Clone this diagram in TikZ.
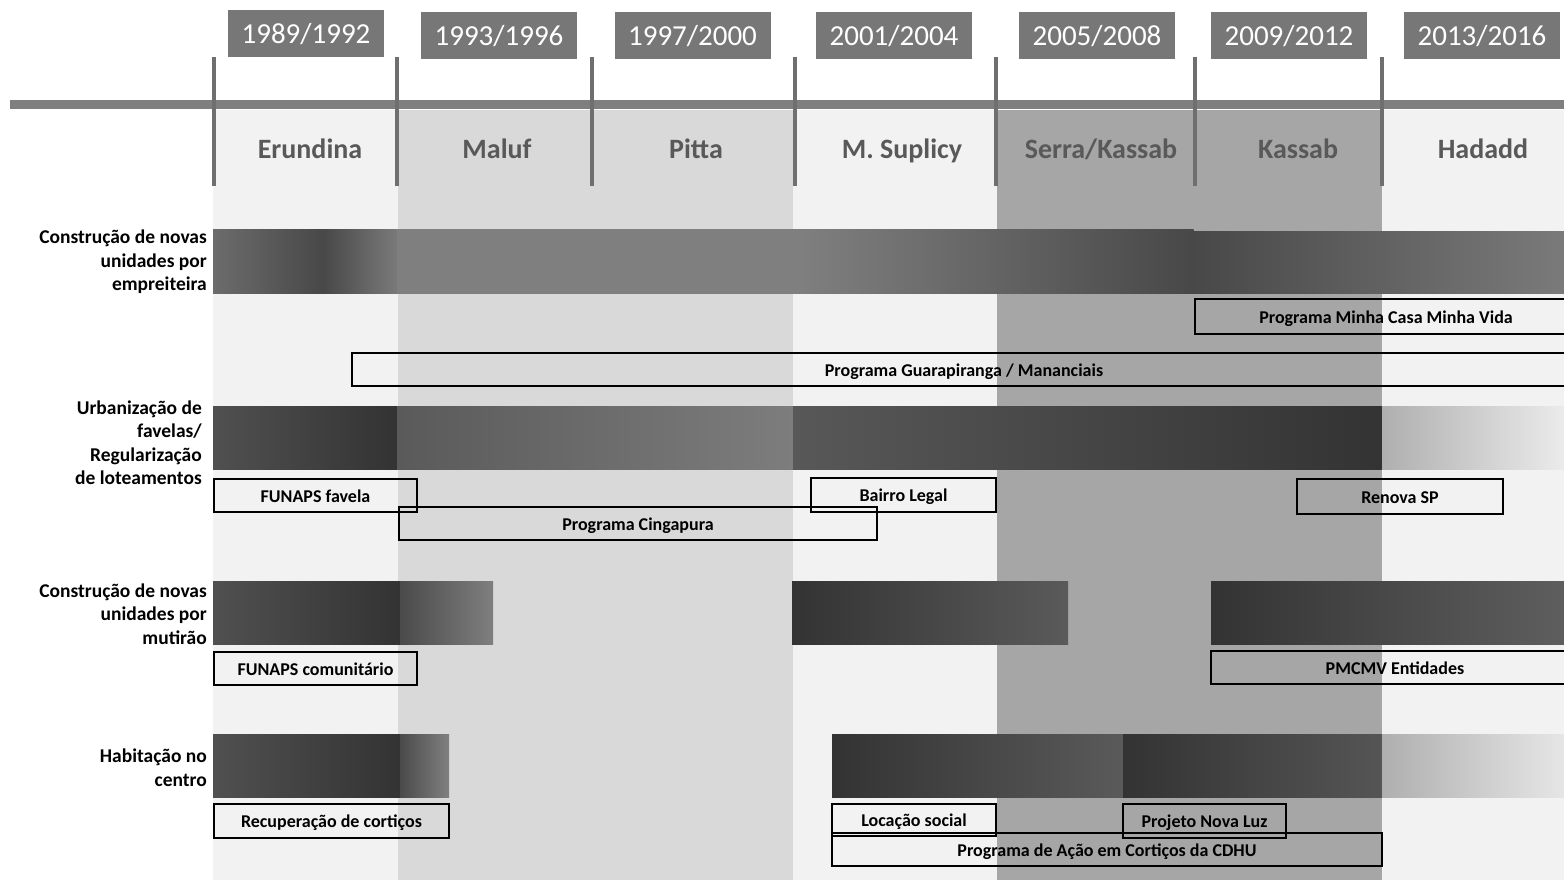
\documentclass[tikz,border=0pt]{standalone}
\usepackage{fontspec}
\setmainfont{Carlito}
\definecolor{bgA}{HTML}{F2F2F2}
\definecolor{bgB}{HTML}{D9D9D9}
\definecolor{bgC}{HTML}{A6A6A6}
\definecolor{yearfill}{HTML}{777777}
\definecolor{hbarcol}{HTML}{7F7F7F}
\definecolor{vlinecol}{HTML}{6F6F6F}
\definecolor{nametext}{HTML}{595959}
\begin{document}
\begin{tikzpicture}[x=1pt,y=-1pt,
  yearbox/.style={fill=yearfill, text=white, font=\fontsize{29}{32}\selectfont,
    minimum width=156pt, minimum height=47pt, inner sep=0pt, text height=21pt, text depth=0pt},
  namelbl/.style={text=nametext, font=\fontsize{28}{32}\selectfont\bfseries, anchor=base, inner sep=0pt},
  lbox/.style={draw=black, line width=1.2pt, font=\fontsize{18}{21}\selectfont\bfseries,
    inner sep=0pt, text height=13.4pt, text depth=0pt},
  rowlbl/.style={font=\fontsize{19.5}{23.5}\selectfont\bfseries, align=right, anchor=east, inner sep=0pt},
  vline/.style={draw=vlinecol, line width=4pt},
]
\clip (0,0) rectangle (1564,880);
\fill[white] (0,0) rectangle (1564,880);
% column backgrounds
\fill[bgA] (213,110) rectangle (398,880);
\fill[bgB] (398,110) rectangle (793,880);
\fill[bgA] (793,110) rectangle (997,880);
\fill[bgC] (997,110) rectangle (1382,880);
\fill[bgA] (1382,110) rectangle (1564,880);
% time axis
\fill[hbarcol] (10,100) rectangle (1564,109);
\foreach \x in {214,397,592,795,996,1195,1382}
  \draw[vline] (\x,57) -- (\x,186);
% year boxes
\node[yearbox] (y1) at (306,33.5) {1989/1992};
\node[yearbox] (y2) at (499,35.5) {1993/1996};
\node[yearbox] (y3) at (692.5,35.5) {1997/2000};
\node[yearbox] (y4) at (894,35.5) {2001/2004};
\node[yearbox] (y5) at (1097,35.5) {2005/2008};
\node[yearbox] (y6) at (1289,35.5) {2009/2012};
\node[yearbox] (y7) at (1482,35.5) {2013/2016};
% mayors
\node[namelbl] (n1) at (310,159) {Erundina};
\node[namelbl] (n2) at (497,159) {Maluf};
\node[namelbl] (n3) at (696,159) {Pitta};
\node[namelbl] (n4) at (902,159) {M. Suplicy};
\node[namelbl] (n5) at (1101,159) {Serra/Kassab};
\node[namelbl] (n6) at (1298,159) {Kassab};
\node[namelbl] (n7) at (1483,159) {Hadadd};
% row 1 bar
\shade[left color={rgb,255:red,108;green,108;blue,108}, right color={rgb,255:red,72;green,72;blue,72}] (213,229) rectangle (323,293);
\shade[left color={rgb,255:red,72;green,72;blue,72}, right color={rgb,255:red,122;green,122;blue,122}] (323,229) rectangle (397.5,293);
\shade[left color=hbarcol, right color=hbarcol] (397,229) rectangle (800.5,293);
\shade[left color={rgb,255:red,127;green,127;blue,127}, right color={rgb,255:red,72;green,72;blue,72}] (800,229) rectangle (1193.5,293);
\shade[left color={rgb,255:red,72;green,72;blue,72}, right color={rgb,255:red,122;green,122;blue,122}] (1193,231) rectangle (1564,293);
% row 2 bar
\shade[left color={rgb,255:red,80;green,80;blue,80}, right color={rgb,255:red,51;green,51;blue,51}] (213,406) rectangle (397.5,469);
\shade[left color={rgb,255:red,90;green,90;blue,90}, right color={rgb,255:red,125;green,125;blue,125}] (397,406) rectangle (793.5,469);
\shade[left color={rgb,255:red,88;green,88;blue,88}, right color={rgb,255:red,51;green,51;blue,51}] (793,406) rectangle (1382.5,469);
\shade[left color={rgb,255:red,175;green,175;blue,175}, right color={rgb,255:red,235;green,235;blue,235}] (1382,406) rectangle (1564,469);
% row 3 bars
\shade[left color={rgb,255:red,80;green,80;blue,80}, right color={rgb,255:red,51;green,51;blue,51}] (213,581) rectangle (400.5,644);
\shade[left color={rgb,255:red,74;green,74;blue,74}, right color={rgb,255:red,127;green,127;blue,127}] (400,581) rectangle (493,644);
\shade[left color={rgb,255:red,51;green,51;blue,51}, right color={rgb,255:red,90;green,90;blue,90}] (792,581) rectangle (1068,644);
\shade[left color={rgb,255:red,51;green,51;blue,51}, right color={rgb,255:red,94;green,94;blue,94}] (1211,581) rectangle (1564,644);
% row 4 bars
\shade[left color={rgb,255:red,80;green,80;blue,80}, right color={rgb,255:red,51;green,51;blue,51}] (213,734) rectangle (400.5,797);
\shade[left color={rgb,255:red,74;green,74;blue,74}, right color={rgb,255:red,128;green,128;blue,128}] (400,734) rectangle (449,797);
\shade[left color={rgb,255:red,51;green,51;blue,51}, right color={rgb,255:red,90;green,90;blue,90}] (832,734) rectangle (1123.5,797);
\shade[left color={rgb,255:red,51;green,51;blue,51}, right color={rgb,255:red,85;green,85;blue,85}] (1123,734) rectangle (1382.5,797);
\shade[left color={rgb,255:red,175;green,175;blue,175}, right color={rgb,255:red,230;green,230;blue,230}] (1382,734) rectangle (1564,797);
% programme boxes
\node[lbox, minimum width=382pt, minimum height=35pt] (mcmv) at (1386,316.5) {Programa Minha Casa Minha Vida};
\node[lbox, minimum width=1224pt, minimum height=33pt] (guara) at (964,369.5) {Programa Guarapiranga / Mananciais};
\node[lbox, minimum width=203pt, minimum height=33pt] (funapsf) at (315.5,495.5) {FUNAPS favela};
\node[lbox, minimum width=478pt, minimum height=33pt] (cinga) at (638,523.5) {Programa Cingapura};
\node[lbox, minimum width=185pt, minimum height=34pt] (bairro) at (903.5,495) {Bairro Legal};
\node[lbox, minimum width=206pt, minimum height=35pt] (renova) at (1400,496.5) {Renova SP};
\node[lbox, minimum width=203pt, minimum height=33pt] (funapsc) at (315.5,668.5) {FUNAPS comunitário};
\node[lbox, minimum width=368pt, minimum height=33pt] (pmcmv) at (1395,667.5) {PMCMV Entidades};
\node[lbox, minimum width=235pt, minimum height=34pt] (recup) at (331.5,821) {Recuperação de cortiços};
\node[lbox, minimum width=164pt, minimum height=32pt] (locacao) at (914,820) {Locação social};
\node[lbox, minimum width=163pt, minimum height=34pt] (novaluz) at (1204.5,821) {Projeto Nova Luz};
\node[lbox, minimum width=550pt, minimum height=33pt] (cdhu) at (1107,849.5) {Programa de Ação em Cortiços da CDHU};
% row labels
\node[rowlbl] (r1) at (207,262) {Construção de novas\\unidades por\\empreiteira};
\node[rowlbl] (r2) at (202,442.5) {Urbanização de\\favelas/\\Regularização\\de loteamentos};
\node[rowlbl] (r3) at (207,614) {Construção de novas\\unidades por\\mutirão};
\node[rowlbl] (r4) at (207,767.5) {Habitação no\\centro};
\end{tikzpicture}
\end{document}
